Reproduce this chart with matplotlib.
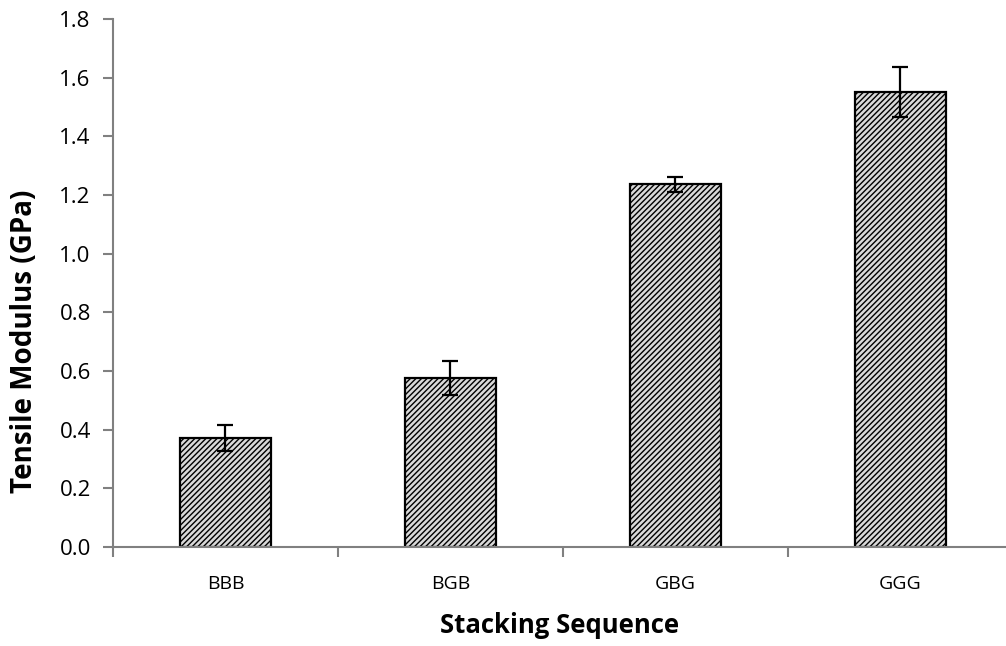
import matplotlib
matplotlib.use("Agg")
from matplotlib import pyplot as plt
import numpy as np

plt.rcParams['font.family'] = ['Open Sans', 'DejaVu Sans']
plt.rcParams['hatch.color'] = '#444444'
plt.rcParams['hatch.linewidth'] = 1.0

categories = ['BBB', 'BGB', 'GBG', 'GGG']
modulus = [0.372, 0.576, 1.236, 1.552]
errors = [0.045, 0.057, 0.027, 0.085]
y_ticks = [0.0, 0.2, 0.4, 0.6, 0.8, 1.0, 1.2, 1.4, 1.6, 1.8]

fig = plt.figure(figsize=(10.06, 6.46), dpi=100)
ax = fig.add_axes([113/1006, 1 - 547/646, 893/1006, 528/646])

x = np.arange(len(categories))
ax.bar(x, modulus, width=0.405, color='#d9d9d9', edgecolor='black',
       linewidth=1.6, hatch='//////', zorder=2)
ax.errorbar(x, modulus, yerr=errors, fmt='none', ecolor='black',
            elinewidth=1.6, capsize=6, capthick=1.6, zorder=3)

ax.set_xlim(-0.5, 3.5 - 6.5/225)
ax.set_ylim(0, 1.8)
ax.set_yticks(y_ticks)
ax.set_yticklabels([f'{v:.1f}' for v in y_ticks], fontsize=16)
ax.set_xticks(x)
ax.set_xticklabels(categories, fontsize=14)
ax.tick_params(axis='x', which='major', length=0, pad=20)
ax.set_xticks(np.arange(-0.5, 3.0, 1.0), minor=True)
ax.tick_params(axis='x', which='minor', length=7, width=1.5, color='#808080', direction='out')
ax.tick_params(axis='y', length=7, width=1.5, color='#808080', pad=9)

for side in ['top', 'right']:
    ax.spines[side].set_visible(False)
for side in ['left', 'bottom']:
    ax.spines[side].set_color('#808080')
    ax.spines[side].set_linewidth(1.5)

ax.set_ylabel('Tensile Modulus (GPa)', fontsize=20, fontweight='bold')
ax.yaxis.set_label_coords(-0.083, 0.39)
ax.set_xlabel('Stacking Sequence', fontsize=18.5, fontweight='bold', labelpad=14)

fig.savefig('out.png', dpi=100)
